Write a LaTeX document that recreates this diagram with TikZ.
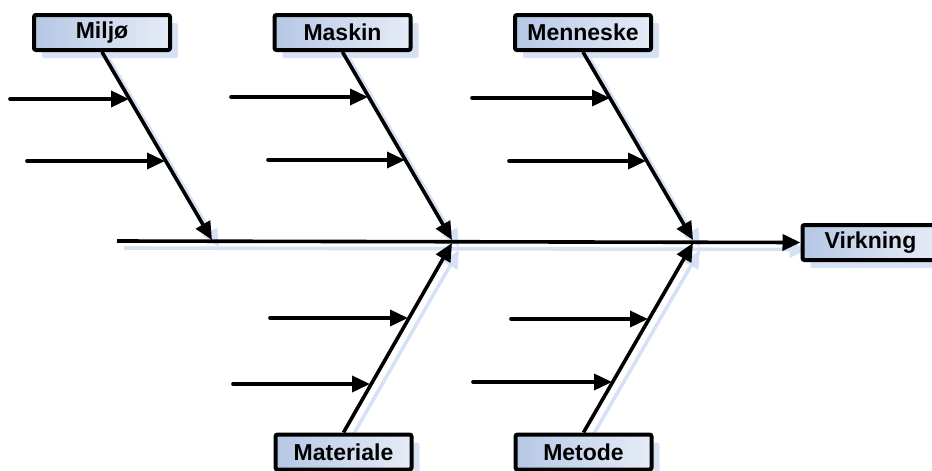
\documentclass[tikz,border=0pt]{standalone}
\usepackage{fontspec}
\setmainfont{Liberation Sans}
\usetikzlibrary{arrows.meta,shadows}
\pgfdeclarelayer{bg}
\pgfsetlayers{bg,main}
\definecolor{boxL}{RGB}{182,199,229}
\definecolor{boxR}{RGB}{230,236,247}
\definecolor{shadowcol}{RGB}{214,226,243}
\tikzset{
  catbox/.style={draw=black, line width=4pt, rounded corners=2pt,
    left color=boxL, right color=boxR,
    minimum width=136pt, minimum height=35pt, inner sep=0pt,
    font=\bfseries\fontsize{23}{26}\selectfont,
    general shadow={shadow xshift=8pt, shadow yshift=-8pt, fill=shadowcol}},
  bone/.style={line width=3.6pt, -{Triangle[length=18pt,width=16pt]}},
  twig/.style={line width=3.6pt, line cap=round, -{Triangle[length=18pt,width=16pt]}},
  shade/.style={draw=shadowcol, line width=3.6pt, -{Triangle[length=18pt,width=16pt]}},
  sh/.style={xshift=7pt, yshift=-7pt}
}
\begin{document}
\begin{tikzpicture}[x=1pt,y=-1pt]
\useasboundingbox (0,0) rectangle (932,471);

% category boxes and the effect box
\node[catbox] (miljo)  at (102,32.5)  {Miljø};
\node[catbox] (maskin) at (342.5,32.5) {Maskin};
\node[catbox] (menn)   at (583,32.5)  {Menneske};
\node[catbox] (mat)    at (343.5,452) {Materiale};
\node[catbox] (met)    at (583.5,452) {Metode};
\node[catbox] (virk)   at (870.5,242.5) {Virkning};

% spine start and where the bones meet it
\coordinate (tail) at (117,241);
\coordinate (j1) at (212,240);
\coordinate (j2) at (452,240);
\coordinate (j3) at (693,240);
\coordinate (j4) at (452,243);
\coordinate (j5) at (693,243);

% soft shadows of spine and bones
\begin{pgfonlayer}{bg}
  \draw[shade] ([sh]tail) -- ([sh]virk.west);
  \draw[shade] ([sh]miljo.south) -- ([sh]j1);
  \draw[shade] ([sh]maskin.south) -- ([sh]j2);
  \draw[shade] ([sh]menn.south) -- ([sh]j3);
  \draw[shade] ([sh]mat.north) -- ([sh]j4);
  \draw[shade] ([sh]met.north) -- ([sh]j5);
\end{pgfonlayer}

% spine and bones
\draw[bone] (tail) -- (virk.west);
\draw[bone] (miljo.south) -- (j1);
\draw[bone] (maskin.south) -- (j2);
\draw[bone] (menn.south) -- (j3);
\draw[bone] (mat.north) -- (j4);
\draw[bone] (met.north) -- (j5);

% cause arrows: start points and their tips on the bones
\coordinate (a1) at (10,99);   \coordinate (b1) at (129,99);
\coordinate (a2) at (27,161);  \coordinate (b2) at (165,161);
\coordinate (a3) at (231,97);  \coordinate (b3) at (368,97);
\coordinate (a4) at (268,160); \coordinate (b4) at (405,160);
\coordinate (a5) at (472,98);  \coordinate (b5) at (610,98);
\coordinate (a6) at (509,161); \coordinate (b6) at (646,161);
\coordinate (a7) at (270,318); \coordinate (b7) at (408,318);
\coordinate (a8) at (233,384); \coordinate (b8) at (370,384);
\coordinate (a9) at (511,319); \coordinate (b9) at (648,319);
\coordinate (a10) at (473,382); \coordinate (b10) at (612,382);

\foreach \i in {1,...,10} \draw[twig] (a\i) -- (b\i);
\end{tikzpicture}
\end{document}
